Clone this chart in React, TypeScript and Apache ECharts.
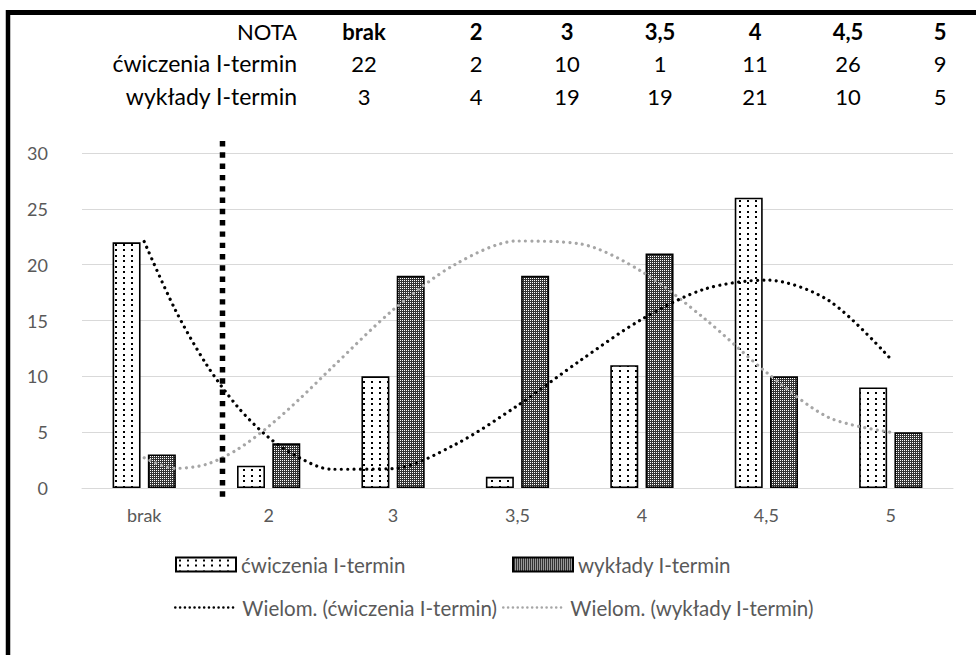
import React, { useEffect, useRef } from "react";
import * as echarts from "echarts";

// ---- data ----
const categories = ["brak", "2", "3", "3,5", "4", "4,5", "5"];
const cwiczenia = [22, 2, 10, 1, 11, 26, 9];
const wyklady = [3, 4, 19, 19, 21, 10, 5];
const tableHeaderLabel = "NOTA";
const nameCw = "ćwiczenia I-termin";
const nameWyk = "wykłady I-termin";
const nameTrendCw = "Wielom. (ćwiczenia I-termin)";
const nameTrendWyk = "Wielom. (wykłady I-termin)";
// trendline points (x = category position 1..7)
const trendX = [1, 1.25, 1.5, 1.75, 2, 2.25, 2.5, 3, 3.5, 4, 4.5, 5, 5.5, 6, 6.5, 7];
const trendCw = [22.07, 15.95, 11.06, 7.28, 4.52, 2.69, 1.68, 1.74, 3.9, 7.38, 11.38, 15.12, 17.8, 18.62, 16.8, 11.55];
const trendWyk = [2.7, 1.76, 2.12, 3.46, 5.51, 7.99, 10.69, 15.95, 20.03, 22.12, 21.87, 19.38, 15.2, 10.36, 6.32, 4.99];

// ---- layout ----
const W = 976;
const H = 655;
const tableColX = [364, 476, 567, 660, 755, 848, 940];
const tableRowY = [31, 63, 96];
const tableLabelRight = 297;
const FONT = "Lato, 'Noto Sans', sans-serif";

function dotsPattern(): HTMLCanvasElement {
  const c = document.createElement("canvas");
  c.width = 8;
  c.height = 11;
  const g = c.getContext("2d")!;
  g.fillStyle = "#ffffff";
  g.fillRect(0, 0, 8, 11);
  g.fillStyle = "#000000";
  g.fillRect(3, 2, 2, 2);
  g.fillRect(3, 7, 2, 2);
  return c;
}

function checkPattern(): HTMLCanvasElement {
  const c = document.createElement("canvas");
  c.width = 2;
  c.height = 2;
  const g = c.getContext("2d")!;
  g.fillStyle = "#333333";
  g.fillRect(0, 0, 2, 2);
  g.fillStyle = "#ffffff";
  g.fillRect(0, 0, 1, 1);
  return c;
}

export default function App() {
  const ref = useRef<HTMLDivElement>(null);

  useEffect(() => {
    if (!ref.current) return;
    const chart = echarts.init(ref.current, undefined, { renderer: "svg" });
    const dots = { image: dotsPattern(), repeat: "repeat" };
    const check = { image: checkPattern(), repeat: "repeat" };

    const txt = (text: string, x: number, y: number, align: string, bold: boolean, size: number) => ({
      type: "text",
      x,
      y,
      silent: true,
      style: {
        text,
        font: `${bold ? "bold " : ""}${size}px ${FONT}`,
        fill: "#000000",
        align,
        verticalAlign: "middle",
        textAlign: align,
        textVerticalAlign: "middle",
      },
    });

    const graphics: any[] = [];
    graphics.push(txt(tableHeaderLabel, tableLabelRight, tableRowY[0], "right", false, 22));
    graphics.push(txt(nameCw, tableLabelRight, tableRowY[1], "right", false, 23));
    graphics.push(txt(nameWyk, tableLabelRight, tableRowY[2], "right", false, 23));
    categories.forEach((c, i) => {
      graphics.push(txt(c, tableColX[i], tableRowY[0], "center", true, 22));
      graphics.push(txt(String(cwiczenia[i]), tableColX[i], tableRowY[1], "center", false, 22));
      graphics.push(txt(String(wyklady[i]), tableColX[i], tableRowY[2], "center", false, 22));
    });
    // frame
    graphics.push({
      type: "line",
      silent: true,
      shape: { x1: 6, y1: 12.5, x2: W, y2: 12.5 },
      style: { stroke: "#000", lineWidth: 5 },
    });
    graphics.push({
      type: "line",
      silent: true,
      shape: { x1: 8, y1: 10, x2: 8, y2: H },
      style: { stroke: "#000", lineWidth: 4.5 },
    });
    // vertical dashed separator
    graphics.push({
      type: "line",
      silent: true,
      z: 10,
      shape: { x1: 222.5, y1: 141, x2: 222.5, y2: 497 },
      style: { stroke: "#000", lineWidth: 5.5, lineDash: [5.4, 5.9] },
    });

    const legendText = { color: "#595959", fontSize: 20.5, fontFamily: FONT };
    const legendBase = {
      padding: 0,
      selectedMode: false,
      textStyle: legendText,
      itemGap: 0,
    };
    const hiddenSymbol = { opacity: 0, color: "rgba(0,0,0,0)", borderWidth: 0 };

    chart.setOption({
      animation: false,
      backgroundColor: "#ffffff",
      grid: { left: 82, right: 23, top: 153, bottom: 167, containLabel: false },
      legend: [
        {
          ...legendBase,
          left: 175,
          top: 554,
          itemWidth: 60,
          itemHeight: 14,
          data: [{ name: nameCw, icon: "rect" }],
        },
        {
          ...legendBase,
          left: 512,
          top: 554,
          itemWidth: 60,
          itemHeight: 14,
          data: [{ name: nameWyk, icon: "rect" }],
        },
        {
          ...legendBase,
          left: 174,
          top: 597,
          itemWidth: 62,
          itemHeight: 14,
          data: [
            {
              name: nameTrendCw,
              itemStyle: hiddenSymbol,
              lineStyle: { color: "#000000", width: 2.6, type: [0.01, 4.8], cap: "round" },
            },
          ],
        },
        {
          ...legendBase,
          left: 502,
          top: 597,
          itemWidth: 62,
          itemHeight: 14,
          data: [
            {
              name: nameTrendWyk,
              itemStyle: hiddenSymbol,
              lineStyle: { color: "#a6a6a6", width: 2.6, type: [0.01, 4.8], cap: "round" },
            },
          ],
        },
      ],
      xAxis: [
        {
          type: "category",
          data: categories,
          axisLine: { lineStyle: { color: "#d9d9d9", width: 1 } },
          axisTick: { show: false },
          axisLabel: { color: "#595959", fontSize: 18, fontFamily: FONT, margin: 18 },
        },
        { type: "value", min: 0.5, max: 7.5, show: false },
      ],
      yAxis: {
        type: "value",
        min: 0,
        max: 30,
        interval: 5,
        axisLine: { show: false },
        axisTick: { show: false },
        axisLabel: { color: "#595959", fontSize: 18, fontFamily: FONT, margin: 34 },
        splitLine: { lineStyle: { color: "#d9d9d9", width: 1 } },
      },
      series: [
        {
          name: nameCw,
          type: "bar",
          data: cwiczenia,
          barWidth: 28,
          barGap: "26%",
          itemStyle: { color: dots, borderColor: "#000", borderWidth: 1.6 },
          z: 2,
        },
        {
          name: nameWyk,
          type: "bar",
          data: wyklady,
          barWidth: 28,
          itemStyle: { color: check, borderColor: "#000", borderWidth: 1.6 },
          z: 2,
        },
        {
          name: nameTrendWyk,
          type: "line",
          xAxisIndex: 1,
          data: trendX.map((x, i) => [x, trendWyk[i]]),
          smooth: 0.3,
          symbol: "none",
          itemStyle: { color: "#a6a6a6" },
          lineStyle: { color: "#a6a6a6", width: 3.2, type: [0.01, 6.3], cap: "round" },
          z: 3,
        },
        {
          name: nameTrendCw,
          type: "line",
          xAxisIndex: 1,
          data: trendX.map((x, i) => [x, trendCw[i]]),
          smooth: 0.3,
          symbol: "none",
          itemStyle: { color: "#000000" },
          lineStyle: { color: "#000000", width: 3.2, type: [0.01, 6.3], cap: "round" },
          z: 4,
        },
      ],
      graphic: graphics,
    });

    return () => {
      chart.dispose();
    };
  }, []);

  return (
    <div
      ref={ref}
      style={{ position: "absolute", left: 0, top: 0, width: W, height: H, background: "#fff" }}
    />
  );
}
